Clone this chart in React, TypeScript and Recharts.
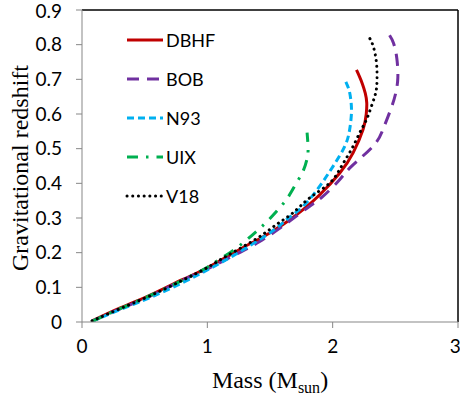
import React from "react";
import { LineChart, Line, XAxis, YAxis, ReferenceLine } from "recharts";

const dbhf = [
  { m: 0.08, z: 0.003 }, { m: 0.3, z: 0.04 }, { m: 0.54, z: 0.077 }, { m: 0.8, z: 0.122 },
  { m: 1.0, z: 0.156 }, { m: 1.285, z: 0.215 }, { m: 1.418, z: 0.24 }, { m: 1.604, z: 0.281 },
  { m: 1.764, z: 0.324 }, { m: 1.897, z: 0.367 }, { m: 2.057, z: 0.43 }, { m: 2.163, z: 0.488 },
  { m: 2.243, z: 0.556 }, { m: 2.268, z: 0.6 }, { m: 2.272, z: 0.632 }, { m: 2.26, z: 0.66 },
  { m: 2.238, z: 0.686 }, { m: 2.215, z: 0.707 }, { m: 2.19, z: 0.727 },
];
const bob = [
  { m: 0.08, z: 0.002 }, { m: 0.3, z: 0.037 }, { m: 0.54, z: 0.074 }, { m: 0.8, z: 0.12 },
  { m: 1.0, z: 0.153 }, { m: 1.2, z: 0.19 }, { m: 1.418, z: 0.232 }, { m: 1.66, z: 0.292 },
  { m: 1.817, z: 0.334 }, { m: 1.924, z: 0.363 }, { m: 2.057, z: 0.411 }, { m: 2.15, z: 0.449 },
  { m: 2.322, z: 0.507 }, { m: 2.402, z: 0.556 }, { m: 2.465, z: 0.615 }, { m: 2.503, z: 0.66 },
  { m: 2.52, z: 0.705 }, { m: 2.512, z: 0.76 }, { m: 2.485, z: 0.805 }, { m: 2.445, z: 0.832 },
];
const n93 = [
  { m: 0.08, z: 0.002 }, { m: 0.3, z: 0.035 }, { m: 0.54, z: 0.07 }, { m: 0.8, z: 0.113 },
  { m: 1.0, z: 0.15 }, { m: 1.2, z: 0.19 }, { m: 1.498, z: 0.257 }, { m: 1.631, z: 0.295 },
  { m: 1.764, z: 0.334 }, { m: 1.897, z: 0.392 }, { m: 2.003, z: 0.449 }, { m: 2.097, z: 0.507 },
  { m: 2.136, z: 0.556 }, { m: 2.15, z: 0.604 }, { m: 2.145, z: 0.64 }, { m: 2.13, z: 0.67 },
  { m: 2.1, z: 0.697 },
];
const uix = [
  { m: 0.08, z: 0.002 }, { m: 0.3, z: 0.038 }, { m: 0.54, z: 0.076 }, { m: 0.8, z: 0.12 },
  { m: 1.0, z: 0.158 }, { m: 1.085, z: 0.178 }, { m: 1.192, z: 0.203 }, { m: 1.298, z: 0.232 },
  { m: 1.391, z: 0.261 }, { m: 1.471, z: 0.288 }, { m: 1.564, z: 0.324 }, { m: 1.644, z: 0.36 },
  { m: 1.711, z: 0.401 }, { m: 1.764, z: 0.435 }, { m: 1.795, z: 0.47 }, { m: 1.804, z: 0.5 },
  { m: 1.796, z: 0.546 },
];
const v18 = [
  { m: 0.08, z: 0.003 }, { m: 0.3, z: 0.038 }, { m: 0.54, z: 0.075 }, { m: 0.8, z: 0.12 },
  { m: 1.0, z: 0.157 }, { m: 1.152, z: 0.19 }, { m: 1.391, z: 0.24 }, { m: 1.551, z: 0.281 },
  { m: 1.684, z: 0.315 }, { m: 1.817, z: 0.358 }, { m: 1.977, z: 0.401 }, { m: 2.07, z: 0.449 },
  { m: 2.15, z: 0.498 }, { m: 2.216, z: 0.546 }, { m: 2.27, z: 0.584 }, { m: 2.31, z: 0.623 },
  { m: 2.344, z: 0.662 }, { m: 2.354, z: 0.7 }, { m: 2.349, z: 0.749 }, { m: 2.322, z: 0.797 },
  { m: 2.283, z: 0.826 },
];

const seriesNames = ["DBHF", "BOB", "N93", "UIX", "V18"];
const xTicks = [0, 1, 2, 3];
const yTicks = [0, 0.1, 0.2, 0.3, 0.4, 0.5, 0.6, 0.7, 0.8, 0.9];
const xTitle = ["Mass (M", "sun", ")"];
const yTitle = "Gravitational redshift";

const series = [
  { name: seriesNames[0], data: dbhf, color: "#C00000", dash: undefined, cap: "butt" },
  { name: seriesNames[1], data: bob, color: "#7030A0", dash: "12 8", cap: "butt" },
  { name: seriesNames[2], data: n93, color: "#00B0F0", dash: "7 4", cap: "butt" },
  { name: seriesNames[3], data: uix, color: "#00B050", dash: "11 8 2.5 8", cap: "butt" },
  { name: seriesNames[4], data: v18, color: "#000000", dash: "0.1 5.6", cap: "round" },
];

const tickFont = { fontFamily: "Lato, 'Liberation Sans', sans-serif", fontSize: 19, fill: "#000" };
const axisGray = "#878787";

export default function App() {
  return (
    <div style={{ position: "absolute", left: 0, top: 0, width: 460, height: 400, background: "#fff" }}>
      <LineChart width={460} height={400} margin={{ top: 10, right: 2, bottom: 48, left: 22 }}>
        <XAxis
          type="number"
          dataKey="m"
          domain={[0, 3]}
          ticks={xTicks}
          allowDataOverflow
          stroke={axisGray}
          tickLine={{ stroke: axisGray }}
          tickSize={6}
          tickMargin={12}
          tick={tickFont}
          height={30}
          label={{
            content: () => (
              <text x={270} y={388} textAnchor="middle" fontFamily="'Liberation Serif', 'Times New Roman', serif" fontSize={24} fill="#000">
                {xTitle[0]}
                <tspan fontSize={16} dy={5}>{xTitle[1]}</tspan>
                <tspan dy={-5}>{xTitle[2]}</tspan>
              </text>
            ),
          }}
        />
        <YAxis
          type="number"
          dataKey="z"
          domain={[0, 0.9]}
          ticks={yTicks}
          allowDataOverflow
          stroke={axisGray}
          tickLine={{ stroke: axisGray }}
          tickSize={6}
          tickMargin={14}
          tick={tickFont}
          width={60}
          label={{
            content: () => (
              <text
                x={20}
                y={168}
                transform="rotate(-90 20 168)"
                textAnchor="middle"
                dominantBaseline="central"
                fontFamily="'Liberation Serif', 'Times New Roman', serif"
                fontSize={24}
                fill="#000"
              >
                {yTitle}
              </text>
            ),
          }}
        />
        <ReferenceLine y={0.9} stroke="#000" strokeWidth={1.5} />
        <ReferenceLine x={3} stroke="#000" strokeWidth={1.5} />
        {series.map((s) => (
          <Line
            key={s.name}
            data={s.data}
            dataKey="z"
            name={s.name}
            type="natural"
            stroke={s.color}
            strokeWidth={3}
            strokeDasharray={s.dash}
            strokeLinecap={s.cap as any}
            dot={false}
            activeDot={false}
            isAnimationActive={false}
          />
        ))}
      </LineChart>
      <svg style={{ position: "absolute", left: 0, top: 0 }} width={460} height={400} pointerEvents="none">
        {series.map((s, i) => (
          <g key={s.name}>
            <line
              x1={127}
              x2={163}
              y1={40 + i * 39}
              y2={40 + i * 39}
              stroke={s.color}
              strokeWidth={3}
              strokeDasharray={s.dash}
              strokeLinecap={s.cap as any}
            />
            <text
              x={166}
              y={40 + i * 39}
              dominantBaseline="central"
              fontFamily="Lato, 'Liberation Sans', sans-serif"
              fontSize={18}
              fill="#000"
            >
              {s.name}
            </text>
          </g>
        ))}
      </svg>
    </div>
  );
}
